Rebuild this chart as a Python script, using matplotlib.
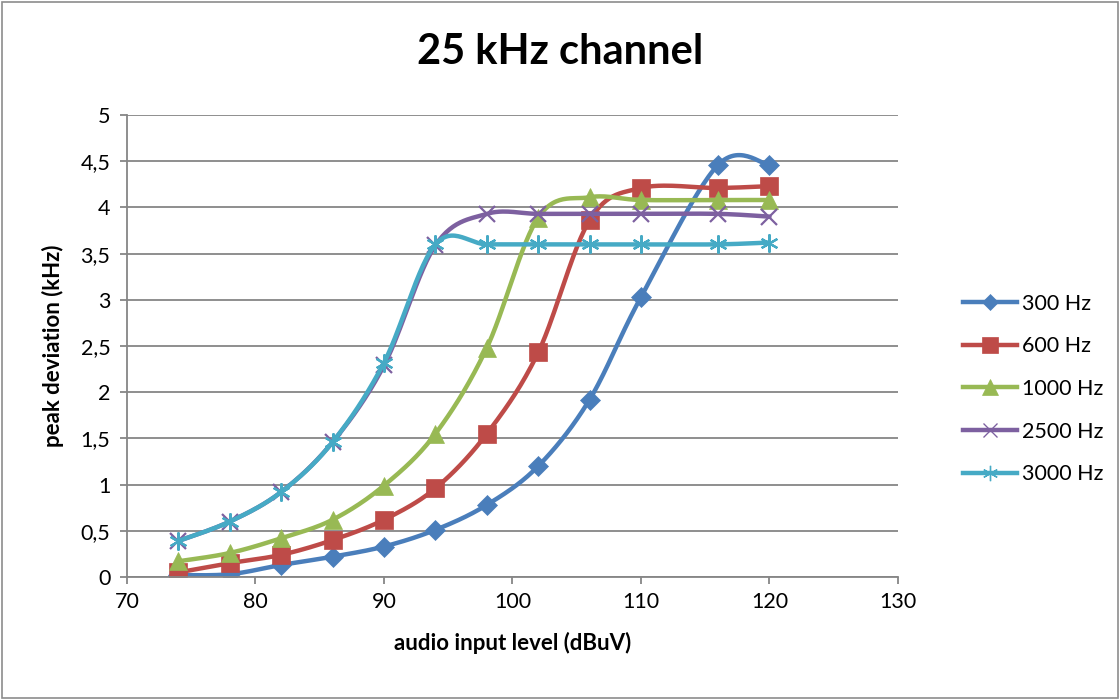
import numpy as np
import matplotlib
matplotlib.use("Agg")
import matplotlib.pyplot as plt
from matplotlib.lines import Line2D
from matplotlib.patches import Rectangle

plt.rcParams['font.family'] = ['Lato', 'DejaVu Sans']

# data
x_level = [74, 78, 82, 86, 90, 94, 98, 102, 106, 110, 116, 120]
dev_300 = [0.02, 0.03, 0.13, 0.22, 0.33, 0.51, 0.78, 1.2, 1.92, 3.03, 4.46, 4.46]
dev_600 = [0.05, 0.15, 0.24, 0.4, 0.62, 0.96, 1.55, 2.43, 3.86, 4.21, 4.21, 4.23]
dev_1000 = [0.17, 0.26, 0.42, 0.62, 0.99, 1.55, 2.48, 3.89, 4.11, 4.08, 4.08, 4.08]
dev_2500 = [0.39, 0.6, 0.92, 1.46, 2.29, 3.59, 3.93, 3.93, 3.93, 3.93, 3.93, 3.9]
dev_3000 = [0.39, 0.6, 0.92, 1.46, 2.32, 3.6, 3.6, 3.6, 3.6, 3.6, 3.6, 3.62]
labels = ["300 Hz", "600 Hz", "1000 Hz", "2500 Hz", "3000 Hz"]

colors = ["#4A7EBB", "#BE4B48", "#98B954", "#7D60A0", "#46AAC5"]
markers = ["D", "s", "^", "x", (6, 2, 0)]
msizes = [10, 13, 13, 12, 13]
medges = [0, 0, 0, 1.6, 1.6]


def smooth(xs, ys, n=30):
    # Excel-like smooth line (Catmull-Rom through the points)
    p = np.column_stack([xs, ys]).astype(float)
    p = np.vstack([p[0], p, p[-1]])
    out = []
    for i in range(1, len(p) - 2):
        p0, p1, p2, p3 = p[i - 1], p[i], p[i + 1], p[i + 2]
        c1 = p1 + (p2 - p0) / 6
        c2 = p2 - (p3 - p1) / 6
        t = np.linspace(0, 1, n)[:, None]
        seg = ((1 - t) ** 3) * p1 + 3 * ((1 - t) ** 2) * t * c1 + 3 * (1 - t) * t ** 2 * c2 + t ** 3 * p2
        out.append(seg)
    s = np.vstack(out)
    return s[:, 0], s[:, 1]


fig = plt.figure(figsize=(11.2, 6.99), dpi=100)
fig.patches.append(Rectangle((0.002, 0.002), 0.996, 0.995, transform=fig.transFigure,
                             fill=False, edgecolor="#8C8C8C", linewidth=1.2))
ax = fig.add_axes([127 / 1120, 1 - 577 / 699, (898 - 127) / 1120, (577 - 115) / 699])

series = [dev_300, dev_600, dev_1000, dev_2500, dev_3000]
handles = []
for ys, lab, c, m, ms, me in zip(series, labels, colors, markers, msizes, medges):
    sx, sy = smooth(x_level, ys)
    ax.plot(sx, sy, color=c, lw=3.2, solid_capstyle="round")
    ax.plot(x_level, ys, linestyle="none", marker=m, markersize=ms, color=c,
            markeredgewidth=me if me else 0.5, markeredgecolor=c)
    handles.append(Line2D([], [], color=c, lw=3.2, marker=m,
                          markersize=ms * 0.85, markeredgewidth=me * 0.6 if me else 0.5,
                          markeredgecolor=c))

ax.set_xlim(70, 130)
ax.set_ylim(0, 5)
ax.set_xticks(np.arange(70, 131, 10))
ax.set_yticks(np.arange(0, 5.01, 0.5))
ax.set_yticklabels([f"{v:g}".replace(".", ",") for v in np.arange(0, 5.01, 0.5)])
ax.grid(axis="y", color="#868686", linewidth=1.3)
ax.set_axisbelow(True)
for side in ["top", "right"]:
    ax.spines[side].set_visible(False)
for side in ["left", "bottom"]:
    ax.spines[side].set_color("#868686")
    ax.spines[side].set_linewidth(1.3)
ax.tick_params(axis="both", colors="#868686", labelcolor="black", labelsize=15.5,
               length=5, width=1.3, direction="out")
ax.tick_params(axis="y", pad=7)
ax.tick_params(axis="x", pad=6)

ax.set_xlabel("audio input level (dBuV)", fontsize=16, fontweight="bold", labelpad=14)
ax.set_ylabel("peak deviation (kHz)", fontsize=16, fontweight="bold", labelpad=12)
fig.text(0.5, 1 - 52 / 699, "25 kHz channel", ha="center", va="center",
         fontsize=30, fontweight="bold")

fig.legend(handles=handles, labels=labels, loc="center left",
           bbox_to_anchor=(944 / 1120, 1 - 389 / 699), frameon=False,
           fontsize=15.5, handlelength=2.5, handletextpad=0.2, labelspacing=1.05)

fig.savefig("out.png", dpi=100)
